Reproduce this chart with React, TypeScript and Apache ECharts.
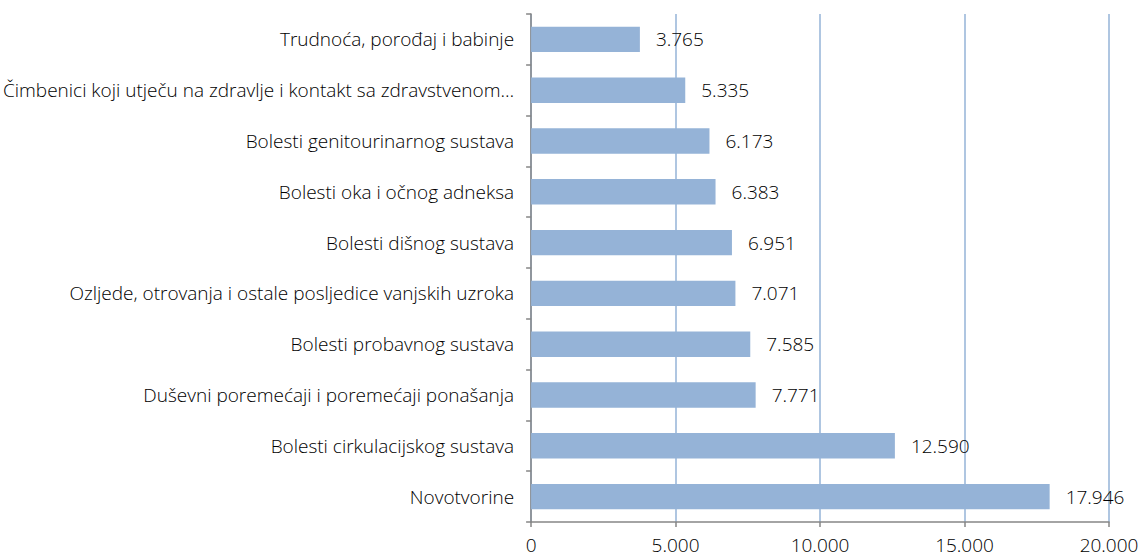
import React, { useEffect, useRef } from "react";
import * as echarts from "echarts";

const categories = [
  "Trudnoća, porođaj i babinje",
  "Čimbenici koji utječu na zdravlje i kontakt sa zdravstvenom…",
  "Bolesti genitourinarnog sustava",
  "Bolesti oka i očnog adneksa",
  "Bolesti dišnog sustava",
  "Ozljede, otrovanja i ostale posljedice vanjskih uzroka",
  "Bolesti probavnog sustava",
  "Duševni poremećaji i poremećaji ponašanja",
  "Bolesti cirkulacijskog sustava",
  "Novotvorine",
];
const values = [3765, 5335, 6173, 6383, 6951, 7071, 7585, 7771, 12590, 17946];

const fmt = (v: number) =>
  String(Math.round(v)).replace(/\B(?=(\d{3})+(?!\d))/g, ".");

export default function App() {
  const ref = useRef<HTMLDivElement>(null);
  useEffect(() => {
    if (!ref.current) return;
    const chart = echarts.init(ref.current, null, { renderer: "svg" });
    const font = "'Open Sans', sans-serif";
    const txt = { fontFamily: font, fontSize: 19, fontWeight: 300, color: "#000" };
    chart.setOption({
      animation: false,
      grid: { left: 530, right: 34, top: 14, bottom: 37 },
      xAxis: {
        type: "value",
        min: 0,
        max: 20000,
        interval: 5000,
        axisLine: { show: true, lineStyle: { color: "#868686", width: 1.5 } },
        axisTick: { show: true, length: 5, lineStyle: { color: "#868686", width: 1.5 } },
        splitLine: { show: true, lineStyle: { color: "#95B3D7", width: 1.5 } },
        axisLabel: {
          margin: 13,
          formatter: (v: number) => fmt(v),
          ...txt,
        },
      },
      yAxis: {
        type: "category",
        data: categories,
        inverse: true,
        axisLine: { show: true, lineStyle: { color: "#868686", width: 1.5 } },
        axisTick: { show: true, length: 5, lineStyle: { color: "#868686", width: 1.5 } },
        axisLabel: {
          margin: 17,
          ...txt,
        },
      },
      series: [
        {
          type: "bar",
          data: values,
          barCategoryGap: "50%",
          itemStyle: { color: "#95B3D7" },
          label: {
            show: true,
            position: "right",
            distance: 16,
            formatter: (p: any) => fmt(p.value),
            ...txt,
          },
        },
      ],
    });
    return () => chart.dispose();
  }, []);
  return (
    <div
      ref={ref}
      style={{ position: "fixed", left: 0, top: 0, width: 1143, height: 559, background: "#fff" }}
    />
  );
}
